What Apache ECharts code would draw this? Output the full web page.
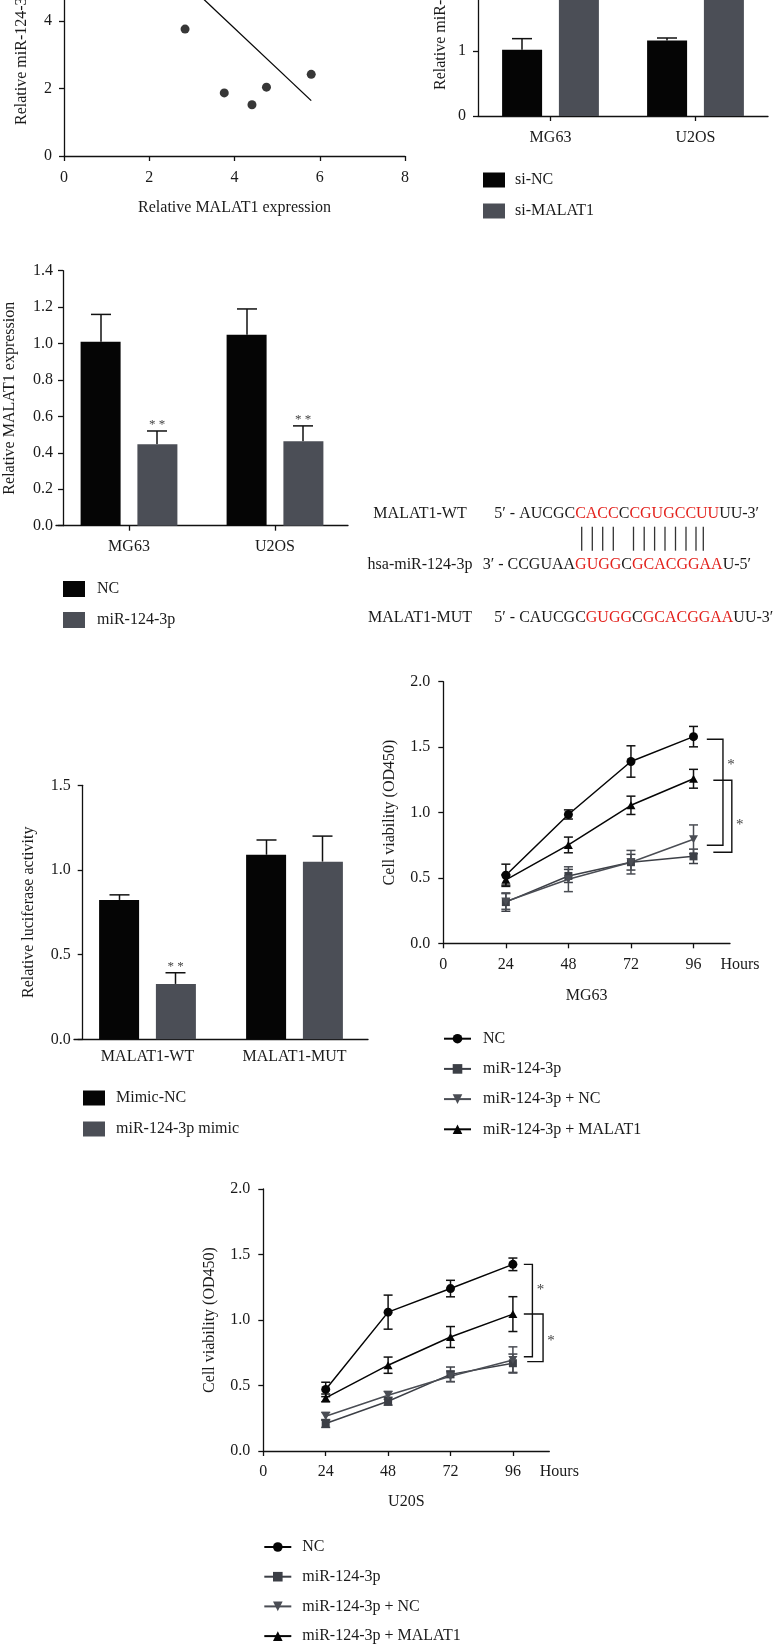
<!DOCTYPE html>
<html><head><meta charset="utf-8">
<script src="https://cdn.jsdelivr.net/npm/echarts@6/dist/echarts.min.js"></script>
<style>html,body{margin:0;padding:0;background:#fff}#c{width:780px;height:1644px}</style>
</head><body><div id="c"></div><script>
// ---------- DATA ----------
// Panel A: correlation scatter
const scatterMALAT1 = [2.84, 3.76, 4.41, 4.75, 5.80];
const scatterMiR = [3.76, 1.87, 1.52, 2.04, 2.42];
const fitLineX = [2.5, 5.8];
const fitLineY = [5.57, 1.64];

// Panel B: miR-124-3p after si-MALAT1
const cellLines = ['MG63', 'U2OS'];
const siNC = [1.02, 1.16];
const siNCErr = [0.17, 0.04];
const siMALAT1 = [2.6, 2.9];
const siMALAT1Err = [0.2, 0.2];

// Panel C: MALAT1 after miR-124-3p
const ncMALAT1 = [1.01, 1.048];
const ncMALAT1Err = [0.15, 0.142];
const miRMALAT1 = [0.447, 0.464];
const miRMALAT1Err = [0.073, 0.084];
const miRMALAT1Sig = ['* *', '* *'];

// Panel D: binding sequences
const seqLabels = ['MALAT1-WT', 'hsa-miR-124-3p', 'MALAT1-MUT'];
const seqParts = [
  [['5\u2032 - AUCGC', 0], ['CACC', 1], ['C', 0], ['CGUGCCUU', 1], ['UU-3\u2032', 0]],
  [['3\u2032 - CCGUAA', 0], ['GUGG', 1], ['C', 0], ['GCACGGAA', 1], ['U-5\u2032', 0]],
  [['5\u2032 - CAUCGC', 0], ['GUGG', 1], ['C', 0], ['GCACGGAA', 1], ['UU-3\u2032', 0]]
];

// Panel E: luciferase
const reporters = ['MALAT1-WT', 'MALAT1-MUT'];
const mimicNC = [0.823, 1.09];
const mimicNCErr = [0.03, 0.087];
const mimic124 = [0.327, 1.049];
const mimic124Err = [0.066, 0.151];
const mimic124Sig = ['* *', ''];

// Panels F, G: CCK-8
const hours = [24, 48, 72, 96];
const hourTicks = [0, 24, 48, 72, 96];
const lineNames = ['NC', 'miR-124-3p', 'miR-124-3p + NC', 'miR-124-3p + MALAT1'];
const mgNC = [0.52, 0.985, 1.39, 1.58];
const mgNCErr = [0.085, 0.035, 0.12, 0.078];
const mgMiR = [0.315, 0.515, 0.62, 0.665];
const mgMiRErr = [0.07, 0.05, 0.06, 0.055];
const mgMiRNC = [0.32, 0.49, 0.62, 0.795];
const mgMiRNCErr = [0.06, 0.095, 0.09, 0.11];
const mgMiRMAL = [0.485, 0.752, 1.055, 1.258];
const mgMiRMALErr = [0.04, 0.06, 0.07, 0.072];
const mgBracketTop = [1.56, 1.247];
const mgBracketBottom = [0.75, 0.696];
const mgBracketStart = [101.1, 103.6];
const mgBracketBottomStart = [101.1, 103.6];
const mgBracketEnd = [107.3, 110.7];
const mgStarY = [1.38, 0.917];

const usNC = [0.47, 1.06, 1.24, 1.425];
const usNCErr = [0.055, 0.13, 0.063, 0.048];
const usMiR = [0.21, 0.38, 0.585, 0.67];
const usMiRErr = [0.03, 0.03, 0.056, 0.07];
const usMiRNC = [0.265, 0.425, 0.57, 0.695];
const usMiRNCErr = [0.03, 0.03, 0.04, 0.1];
const usMiRMAL = [0.405, 0.655, 0.87, 1.045];
const usMiRMALErr = [0.03, 0.062, 0.08, 0.133];
const usBracketTop = [1.425, 1.046];
const usBracketBottom = [0.72, 0.682];
const usBracketStart = [100.2, 100.2];
const usBracketBottomStart = [100.2, 101.5];
const usBracketEnd = [103.5, 107.6];
const usStarY = [1.242, 0.853];

// ---------- STYLE ----------
const FONT = '"Liberation Serif", "Times New Roman", serif';
const FS = 16;
const TXT = '#1a1a1a';
const AX = '#111';
const BLACK = '#050505';
const GRAY = '#4b4e56';
const RED = '#e3211c';
const LGRAY = '#3c3f46';
const LGRAY2 = '#4a4d54';

function ax(o) {
  const base = {
    axisLine: {show: true, onZero: false, lineStyle: {color: AX, width: 1.3}},
    axisTick: {show: true, inside: false, length: 5, lineStyle: {color: AX, width: 1.3}},
    axisLabel: {color: TXT, fontSize: FS, fontFamily: FONT, margin: 12},
    splitLine: {show: false},
    nameTextStyle: {color: TXT, fontSize: FS, fontFamily: FONT}
  };
  for (const k in o) {
    if (base[k] && typeof o[k] === 'object' && !Array.isArray(o[k])) base[k] = Object.assign({}, base[k], o[k]);
    else base[k] = o[k];
  }
  return base;
}
const strip = n => n.split('|')[1];

function barErr(gi, values, errs, dx, sig) {
  return {
    type: 'custom', xAxisIndex: gi, yAxisIndex: gi, z: 1, silent: true,
    data: values.map((v, i) => [i, v, v + errs[i]]),
    renderItem(params, api) {
      const lo = api.coord([api.value(0), api.value(1)]);
      const hi = api.coord([api.value(0), api.value(2)]);
      const x = lo[0] + dx, w = 10;
      const ch = [
        {type: 'line', shape: {x1: x, y1: lo[1], x2: x, y2: hi[1]}, style: {stroke: AX, lineWidth: 1.5}},
        {type: 'line', shape: {x1: x - w, y1: hi[1], x2: x + w, y2: hi[1]}, style: {stroke: AX, lineWidth: 1.5}}
      ];
      const s = sig ? sig[params.dataIndex] : '';
      if (s) ch.push({type: 'text', x: x, y: hi[1] - 6, style: {text: s, fill: '#444', font: '13px ' + FONT, align: 'center', verticalAlign: 'middle'}});
      return {type: 'group', children: ch};
    }
  };
}
function lineErr(gi, values, errs, color) {
  return {
    type: 'custom', xAxisIndex: gi, yAxisIndex: gi, z: 2, silent: true,
    data: hours.map((h, i) => [h, values[i] - errs[i], values[i] + errs[i]]),
    renderItem(params, api) {
      const lo = api.coord([api.value(0), api.value(1)]);
      const hi = api.coord([api.value(0), api.value(2)]);
      const w = 4.5, st = {stroke: color, lineWidth: 1.5};
      return {type: 'group', children: [
        {type: 'line', shape: {x1: lo[0], y1: lo[1], x2: hi[0], y2: hi[1]}, style: st},
        {type: 'line', shape: {x1: lo[0] - w, y1: lo[1], x2: lo[0] + w, y2: lo[1]}, style: st},
        {type: 'line', shape: {x1: hi[0] - w, y1: hi[1], x2: hi[0] + w, y2: hi[1]}, style: st}
      ]};
    }
  };
}
function brackets(gi, top, bottom, start, bstart, end, starY) {
  return {
    type: 'custom', xAxisIndex: gi, yAxisIndex: gi, z: 2, silent: true, clip: false,
    data: top.map((t, i) => [start[i], end[i], t, bottom[i], bstart[i], starY[i]]),
    renderItem(params, api) {
      const a = api.coord([api.value(0), api.value(2)]);
      const b = api.coord([api.value(1), api.value(2)]);
      const c = api.coord([api.value(1), api.value(3)]);
      const d = api.coord([api.value(4), api.value(3)]);
      const s = api.coord([api.value(1), api.value(5)]);
      return {type: 'group', children: [
        {type: 'polyline', shape: {points: [a, b, c, d]}, style: {stroke: AX, lineWidth: 1.4, fill: null}},
        {type: 'text', x: s[0] + 8, y: s[1] + 2, style: {text: '*', fill: '#444', font: '15px ' + FONT, align: 'center', verticalAlign: 'middle'}}
      ]};
    }
  };
}
const DOWN = 'path://M0,0L10,0L5,9Z';
function lineSeries(gi, prefix, idx, values, color, symbol, size) {
  return {
    type: 'line', name: prefix + '|' + lineNames[idx], xAxisIndex: gi, yAxisIndex: gi, z: 3,
    data: hours.map((h, i) => [h, values[i]]),
    symbol: symbol, symbolSize: size, showAllSymbol: true,
    lineStyle: {color: color, width: 1.5}, itemStyle: {color: color}, emphasis: {disabled: true}
  };
}

// ---------- PANEL D (text graphics) ----------
const seqLabelX = 420, seqStartX = [494.3, 482.7, 494.3], seqY = [514, 565, 617.7];
const pairLineX = [581.7, 592.3, 602.7, 613.3, 633.5, 644.2, 654.6, 665, 675.5, 686, 696, 703.3];
const graphics = [];
seqLabels.forEach((lab, i) => {
  graphics.push({type: 'text', x: seqLabelX, y: seqY[i], style: {text: lab, fill: TXT, font: FS + 'px ' + FONT, align: 'center', verticalAlign: 'middle'}});
  graphics.push({type: 'text', x: seqStartX[i], y: seqY[i], style: {
    text: seqParts[i].map(p => '{' + (p[1] ? 'r' : 'b') + '|' + p[0] + '}').join(''),
    font: FS + 'px ' + FONT, align: 'left', verticalAlign: 'middle',
    rich: {b: {fill: TXT, fontSize: FS, fontFamily: FONT}, r: {fill: RED, fontSize: FS, fontFamily: FONT}}
  }});
});
pairLineX.forEach(cx => {
  graphics.push({type: 'line', shape: {x1: cx, y1: 526.7, x2: cx, y2: 550.7}, style: {stroke: '#333', lineWidth: 1.3}});
});

// ---------- OPTION ----------
const grids = [
  {left: 64, top: -114, width: 341, height: 270},
  {left: 478, top: -144, width: 290, height: 260},
  {left: 56, top: 270.7, width: 292, height: 255},
  {left: 74, top: 785.3, width: 294, height: 254},
  {left: 443.3, top: 681.7, width: 286.7, height: 261.6},
  {left: 263.3, top: 1189, width: 286, height: 262}
].map(g => Object.assign({containLabel: false, outerBoundsMode: 'none'}, g));

const f1 = v => v.toFixed(1);
const hoursLabel = {
  customValues: hourTicks.concat([110]),
  formatter: v => v === 110 ? '{h|Hours}' : String(v),
  rich: {h: {padding: [0, 0, 0, 20], fontSize: FS, fontFamily: FONT, color: TXT}},
  margin: 13
};

const xAxes = [
  ax({gridIndex: 0, type: 'value', min: 0, max: 8, interval: 2, name: 'Relative MALAT1 expression', nameLocation: 'middle', nameGap: 44, axisLabel: {margin: 14}}),
  ax({gridIndex: 1, type: 'category', data: cellLines, axisTick: {alignWithLabel: true}, axisLabel: {margin: 14}}),
  ax({gridIndex: 2, type: 'category', data: cellLines, axisTick: {alignWithLabel: true}, axisLabel: {margin: 13}}),
  ax({gridIndex: 3, type: 'category', data: reporters, axisTick: {show: false}, axisLabel: {margin: 9}}),
  ax({gridIndex: 4, type: 'value', min: 0, max: 110, name: 'MG63', nameLocation: 'middle', nameGap: 44, axisTick: {customValues: hourTicks}, axisLabel: hoursLabel}),
  ax({gridIndex: 5, type: 'value', min: 0, max: 110, name: 'U20S', nameLocation: 'middle', nameGap: 43, axisTick: {customValues: hourTicks}, axisLabel: hoursLabel})
];
const yAxes = [
  ax({gridIndex: 0, type: 'value', min: 0, max: 8, interval: 2, name: 'Relative miR-124-3p expression', nameLocation: 'middle', nameGap: 34, axisLabel: {margin: 12}}),
  ax({gridIndex: 1, type: 'value', min: 0, max: 4, interval: 1, name: 'Relative miR-124-3p expression', nameLocation: 'middle', nameGap: 29, axisLabel: {margin: 12}}),
  ax({gridIndex: 2, type: 'value', min: 0, max: 1.4, interval: 0.2, offset: -7, name: 'Relative MALAT1 expression', nameLocation: 'middle', nameGap: 45, axisLabel: {formatter: f1, margin: 10}}),
  ax({gridIndex: 3, type: 'value', min: 0, max: 1.5, interval: 0.5, offset: -8.7, name: 'Relative luciferase activity', nameLocation: 'middle', nameGap: 46, axisLabel: {formatter: f1, margin: 12}}),
  ax({gridIndex: 4, type: 'value', min: 0, max: 2, interval: 0.5, name: 'Cell viability (OD450)', nameLocation: 'middle', nameGap: 46, axisLabel: {formatter: f1, margin: 13}}),
  ax({gridIndex: 5, type: 'value', min: 0, max: 2, interval: 0.5, name: 'Cell viability (OD450)', nameLocation: 'middle', nameGap: 46, axisLabel: {formatter: f1, margin: 13}})
];

function barPair(gi, prefix, n1, v1, n2, v2) {
  const common = {type: 'bar', xAxisIndex: gi, yAxisIndex: gi, barWidth: 40, barGap: '42%', z: 2, emphasis: {disabled: true}};
  return [
    Object.assign({name: prefix + '|' + n1, data: v1, itemStyle: {color: BLACK}}, common),
    Object.assign({name: prefix + '|' + n2, data: v2, itemStyle: {color: GRAY}}, common)
  ];
}

const series = [].concat(
  [{type: 'scatter', xAxisIndex: 0, yAxisIndex: 0, symbolSize: 9, itemStyle: {color: BLACK}, data: scatterMALAT1.map((x, i) => [x, scatterMiR[i]])},
   {type: 'line', xAxisIndex: 0, yAxisIndex: 0, showSymbol: false, lineStyle: {color: BLACK, width: 1.3}, data: fitLineX.map((x, i) => [x, fitLineY[i]])}],
  barPair(1, 'B', 'si-NC', siNC, 'si-MALAT1', siMALAT1),
  [barErr(1, siNC, siNCErr, -28.5), barErr(1, siMALAT1, siMALAT1Err, 28.5)],
  barPair(2, 'C', 'NC', ncMALAT1, 'miR-124-3p', miRMALAT1),
  [barErr(2, ncMALAT1, ncMALAT1Err, -28), barErr(2, miRMALAT1, miRMALAT1Err, 28, miRMALAT1Sig)],
  barPair(3, 'E', 'Mimic-NC', mimicNC, 'miR-124-3p mimic', mimic124),
  [barErr(3, mimicNC, mimicNCErr, -28), barErr(3, mimic124, mimic124Err, 28, mimic124Sig)],
  [lineErr(4, mgNC, mgNCErr, AX), lineErr(4, mgMiR, mgMiRErr, LGRAY), lineErr(4, mgMiRNC, mgMiRNCErr, LGRAY2), lineErr(4, mgMiRMAL, mgMiRMALErr, AX),
   lineSeries(4, 'F', 0, mgNC, BLACK, 'circle', 9), lineSeries(4, 'F', 1, mgMiR, LGRAY, 'rect', 8),
   lineSeries(4, 'F', 2, mgMiRNC, LGRAY2, DOWN, [9, 8]), lineSeries(4, 'F', 3, mgMiRMAL, BLACK, 'triangle', [9, 8]),
   brackets(4, mgBracketTop, mgBracketBottom, mgBracketStart, mgBracketBottomStart, mgBracketEnd, mgStarY)],
  [lineErr(5, usNC, usNCErr, AX), lineErr(5, usMiR, usMiRErr, LGRAY), lineErr(5, usMiRNC, usMiRNCErr, LGRAY2), lineErr(5, usMiRMAL, usMiRMALErr, AX),
   lineSeries(5, 'G', 0, usNC, BLACK, 'circle', 9), lineSeries(5, 'G', 1, usMiR, LGRAY, 'rect', 8),
   lineSeries(5, 'G', 2, usMiRNC, LGRAY2, DOWN, [9, 8]), lineSeries(5, 'G', 3, usMiRMAL, BLACK, 'triangle', [9, 8]),
   brackets(5, usBracketTop, usBracketBottom, usBracketStart, usBracketBottomStart, usBracketEnd, usStarY)]
);

function barLegend(names, left, top, ih, gap, pad) {
  return {data: names, left: left, top: top, width: 300, height: 200, orient: 'vertical', icon: 'rect', itemWidth: 22, itemHeight: ih, itemGap: gap,
    formatter: strip, selectedMode: false, padding: 0,
    textStyle: {fontSize: FS, fontFamily: FONT, color: TXT, lineHeight: ih, padding: [0, 0, 0, pad]}};
}
function lineLegend(prefix, left, top, gap, pad) {
  return {data: lineNames.map(n => prefix + '|' + n), left: left, top: top, width: 300, height: 300, orient: 'vertical', itemWidth: 27, itemHeight: 12, itemGap: gap,
    formatter: strip, selectedMode: false, padding: 0,
    textStyle: {fontSize: FS, fontFamily: FONT, color: TXT, lineHeight: 12, padding: [0, 0, 0, pad]}};
}

const option = {
  animation: false,
  backgroundColor: '#fff',
  textStyle: {fontFamily: FONT},
  grid: grids,
  xAxis: xAxes,
  yAxis: yAxes,
  legend: [
    barLegend(['B|si-NC', 'B|si-MALAT1'], 483, 172, 15, 15, 5),
    barLegend(['C|NC', 'C|miR-124-3p'], 63, 581, 16, 15, 7),
    barLegend(['E|Mimic-NC', 'E|miR-124-3p mimic'], 83, 1090, 15, 15, 6),
    lineLegend('F', 443, 1030.7, 14.2, 7),
    lineLegend('G', 263.3, 1539, 13.7, 6)
  ],
  series: series,
  graphic: {elements: graphics}
};
const chart = echarts.init(document.getElementById('c'), null, {renderer: 'canvas', width: 780, height: 1644});
chart.setOption(option);
</script></body></html>
